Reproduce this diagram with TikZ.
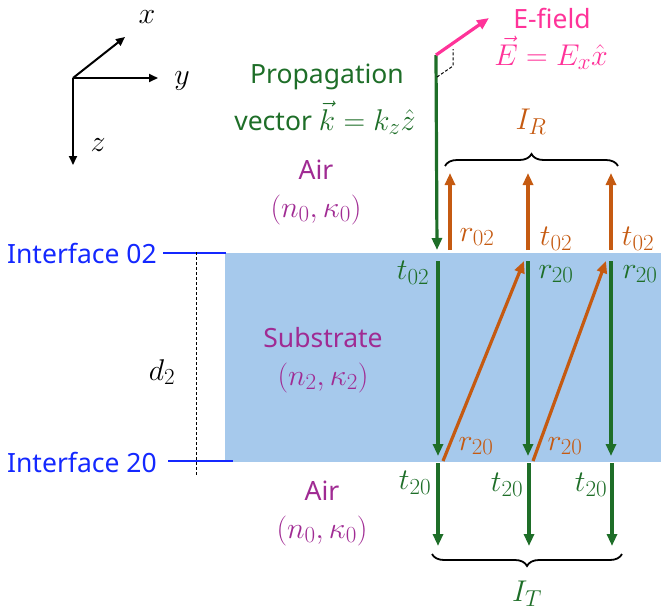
\RequirePackage{fix-cm}
\documentclass[tikz,border=0pt]{standalone}
\usepackage[no-math]{fontspec}
\setmainfont{Noto Sans}
\usepackage{amsmath}
\usetikzlibrary{arrows.meta,decorations.pathreplacing}
\DeclareMathSizes{30}{30}{23}{18}
\definecolor{kgreen}{HTML}{1E6E28}
\definecolor{korange}{HTML}{C55A11}
\definecolor{kpink}{HTML}{FF3399}
\definecolor{kpurple}{HTML}{A02B93}
\definecolor{kblue}{HTML}{1428FF}
\definecolor{subfill}{HTML}{A6C9EC}
\newcommand{\mth}[1]{{\fontsize{30}{40}\selectfont$#1$}}
\begin{document}
\begin{tikzpicture}[x=1pt,y=-1pt,
  every node/.style={inner sep=0pt,font=\fontsize{26.5}{30}\selectfont},
  ar/.style={line width=3.2pt,-{Triangle[length=12pt,width=10pt]}},
  grn/.style={ar,draw=kgreen},
  org/.style={ar,draw=korange},
  axis/.style={line width=2pt,-{Triangle[length=9pt,width=8pt]}},
  mlab/.style={font=\fontsize{30}{34}\selectfont},
  iface/.style={text=kblue,anchor=east},
  mat/.style={text=kpurple,align=center,font=\fontsize{26.5}{38}\selectfont},
  brc/.style={decorate,line width=1.8pt,decoration={brace,amplitude=12pt,raise=0pt}}
]
\useasboundingbox (0,0) rectangle (661,613);
% substrate
\fill[subfill] (225,253) rectangle (661,462);
% interfaces
\node[iface] (if02) at (157,253) {Interface 02};
\node[iface] (if20) at (157,462) {Interface 20};
\coordinate (l02) at (163,253); \coordinate (r02i) at (226,253);
\coordinate (l20) at (168,461); \coordinate (r20i) at (233,461);
\draw[kblue,line width=1.8pt] (l02) -- (r02i);
\draw[kblue,line width=1.8pt] (l20) -- (r20i);
% thickness
\coordinate (dt) at (196,252); \coordinate (db) at (196,476);
\draw[dashed,line width=1pt,dash pattern=on 3pt off 2pt] (dt) -- (db);
\node[mlab] (d2) at (162,372) {$d_2$};
% media labels
\node[mat] (air1) at (316,192) {Air\\\mth{(n_0,\kappa_0)}};
\node[mat] (sub) at (323,360) {Substrate\\\mth{(n_2,\kappa_2)}};
\node[mat] (air2) at (322,513) {Air\\\mth{(n_0,\kappa_0)}};
% axes
\coordinate (o) at (73,78);
\coordinate (xa) at (125,37);
\coordinate (ya) at (158,78);
\coordinate (za) at (73,165);
\draw[axis] (o) -- (xa);
\draw[axis] (o) -- (ya);
\draw[axis] (o) -- (za);
\node[mlab] (xl) at (147,17) {$x$};
\node[mlab] (yl) at (182,81) {$y$};
\node[mlab] (zl) at (98,145) {$z$};
% incident
\coordinate (src) at (436,55);
\coordinate (inc) at (437,250);
\coordinate (etip) at (489,18);
\draw[grn] (src) -- (inc);
\draw[line width=3.2pt,kpink,-{Triangle[length=12pt,width=10pt]}] (src) -- (etip);
\coordinate (m1) at (437,77); \coordinate (m2) at (453,66); \coordinate (m3) at (453,49);
\draw[dashed,line width=1pt,dash pattern=on 3pt off 2pt] (m1) -- (m2) -- (m3);
\node[text=kpink] (ef) at (552,18) {E-field};
\node[text=kpink,mlab] (efe) at (551,53) {$\vec{E}=E_x\hat{x}$};
\node[text=kgreen] (prop) at (327,77) {Propagation};
\node[text=kgreen] (pvec) at (325,118) {vector \mth{\vec{k}=k_z\hat{z}}};
% reflected up arrows
\coordinate (u1b) at (450,250); \coordinate (u1t) at (450,173);
\coordinate (u2b) at (528,250); \coordinate (u2t) at (528,173);
\coordinate (u3b) at (611,250); \coordinate (u3t) at (611,173);
\draw[org] (u1b) -- (u1t);
\draw[org] (u2b) -- (u2t);
\draw[org] (u3b) -- (u3t);
% in substrate
\coordinate (s1t) at (438,261); \coordinate (s1b) at (438,456);
\coordinate (s2t) at (528,261); \coordinate (s2b) at (528,456);
\coordinate (s3t) at (611,261); \coordinate (s3b) at (611,456);
\draw[grn] (s1t) -- (s1b);
\draw[grn] (s2t) -- (s2b);
\draw[grn] (s3t) -- (s3b);
\coordinate (d1b) at (443,461); \coordinate (d1t) at (524,261);
\coordinate (d2b) at (533,461); \coordinate (d2t) at (606,261);
\draw[org] (d1b) -- (d1t);
\draw[org] (d2b) -- (d2t);
% transmitted
\coordinate (t1t) at (438,463); \coordinate (t1b) at (438,546);
\coordinate (t2t) at (529,463); \coordinate (t2b) at (529,546);
\coordinate (t3t) at (612,463); \coordinate (t3b) at (612,546);
\draw[grn] (t1t) -- (t1b);
\draw[grn] (t2t) -- (t2b);
\draw[grn] (t3t) -- (t3b);
% braces
\coordinate (bra) at (445,166); \coordinate (brb) at (618,166);
\draw[brc] (bra) -- (brb);
\node[mlab,text=korange] (IR) at (531,122) {$I_R$};
\coordinate (bta) at (622,554); \coordinate (btb) at (432,554);
\draw[brc] (bta) -- (btb);
\node[mlab,text=kgreen] (IT) at (527,594) {$I_T$};
% coefficient labels
\node[mlab,text=korange] (lr02) at (477,237) {$r_{02}$};
\node[mlab,text=korange] (lt02a) at (556,239) {$t_{02}$};
\node[mlab,text=korange] (lt02b) at (638,239) {$t_{02}$};
\node[mlab,text=kgreen] (gt02) at (413,273) {$t_{02}$};
\node[mlab,text=kgreen] (gr20a) at (556,274) {$r_{20}$};
\node[mlab,text=kgreen] (gr20b) at (640,274) {$r_{20}$};
\node[mlab,text=korange] (or20a) at (476,446) {$r_{20}$};
\node[mlab,text=korange] (or20b) at (565,446) {$r_{20}$};
\node[mlab,text=kgreen] (gt20a) at (415,483) {$t_{20}$};
\node[mlab,text=kgreen] (gt20b) at (507,485) {$t_{20}$};
\node[mlab,text=kgreen] (gt20c) at (591,485) {$t_{20}$};
\end{tikzpicture}
\end{document}
